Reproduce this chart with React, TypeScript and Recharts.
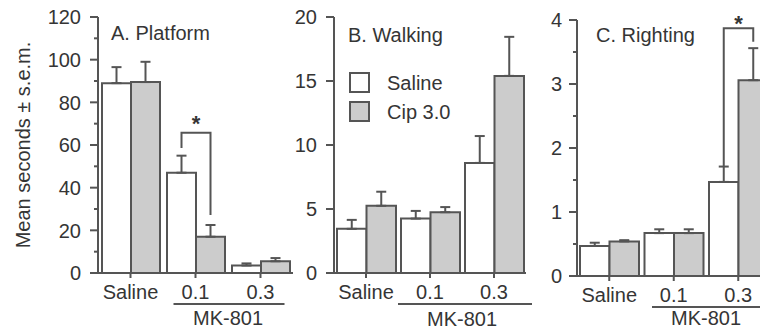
import React from 'react';
import { BarChart, Bar, XAxis, YAxis, ErrorBar, LabelList, Legend } from 'recharts';

// ---------- data ----------
const categories = ['Saline', '0.1', '0.3'];
const groupLabel = 'MK-801';
const seriesNames = ['Saline', 'Cip 3.0'];
const yAxisTitle = 'Mean seconds \u00b1 s.e.m.';

// A. Platform
const platformSaline = [89, 47, 3.5];
const platformSalineSem = [7.5, 8, 1];
const platformCip = [89.5, 17, 5.5];
const platformCipSem = [9.5, 5.5, 1.5];
const platformTicks = [0, 10, 20, 30, 40, 50, 60, 70, 80, 90, 100, 110, 120];

// B. Walking
const walkingSaline = [3.45, 4.25, 8.6];
const walkingSalineSem = [0.7, 0.6, 2.1];
const walkingCip = [5.25, 4.75, 15.4];
const walkingCipSem = [1.1, 0.4, 3.05];
const walkingTicks = [0, 5, 10, 15, 20];

// C. Righting
const rightingSaline = [0.47, 0.67, 1.47];
const rightingSalineSem = [0.05, 0.06, 0.24];
const rightingCip = [0.54, 0.67, 3.06];
const rightingCipSem = [0.02, 0.06, 0.5];
const rightingTicks = [0, 0.5, 1, 1.5, 2, 2.5, 3, 3.5, 4];

// significance brackets: [category index, left leg bottom, top, right leg bottom, star]
const platformBracket = [1, 58.6, 65.8, 27.2, 72.5];
const rightingBracket = [2, 1.72, 3.87, 3.66, 4.03];

// ---------- styles ----------
const FONT = '"Liberation Sans", Arial, Helvetica, sans-serif';
const INK = '#353535';
const LINE = '#555555';
const GREY = '#cccccc';
const FS = 20;

type PanelCfg = {
  title: string;
  titleX: number;
  titleBaseline: number;
  saline: number[];
  salineSem: number[];
  cip: number[];
  cipSem: number[];
  ticks: number[];
  majorStep: number;
  domain: [number, number];
  left: number;
  width: number;
  yAxisWidth: number;
  marginRight: number;
  top: number;
  marginBottom: number;
  tickMargin: number;
  barSize: number;
  ulLeft: number;
  ulRight: number;
  mkOffset: number;
  bracket?: number[];
  legend?: boolean;
  yLabel?: boolean;
};

function Panel(p: PanelCfg) {
  const data = categories.map((c, i) => ({
    category: c,
    saline: p.saline[i],
    salineErr: [0, p.salineSem[i]],
    cip: p.cip[i],
    cipErr: [0, p.cipSem[i]],
  }));
  const plotW = p.width - p.yAxisWidth - p.marginRight;
  const band = plotW / categories.length;

  const isMajor = (v: number) => Math.abs(v / p.majorStep - Math.round(v / p.majorStep)) < 1e-6;

  const YTick = (tp: any) => {
    const { x, y, payload } = tp;
    const axisX = x + 8 + p.tickMargin;
    const major = isMajor(payload.value);
    return (
      <g>
        <line x1={axisX - (major ? 8 : 4)} x2={axisX} y1={y} y2={y} stroke={LINE} strokeWidth={2} />
        {major && (
          <text x={x} y={y} dy="0.36em" textAnchor="end" fontSize={FS} fontFamily={FONT} fill={INK}>
            {payload.value}
          </text>
        )}
      </g>
    );
  };

  const XTick = (tp: any) => {
    const { x, y, payload, index } = tp;
    const mid = x - band / 2;
    return (
      <g>
        <text x={x} y={y + 19} textAnchor="middle" fontSize={FS} fontFamily={FONT} fill={INK}>
          {payload.value}
        </text>
        {index === categories.length - 1 && (
          <g>
            <line x1={mid - p.ulLeft} x2={mid + p.ulRight} y1={y + 24} y2={y + 24} stroke={LINE} strokeWidth={2} />
            <text x={mid} y={y + p.mkOffset} textAnchor="middle" fontSize={FS} fontFamily={FONT} fill={INK}>
              {groupLabel}
            </text>
          </g>
        )}
      </g>
    );
  };

  const bracketContent = (lp: any) => {
    if (!p.bracket || lp.index !== p.bracket[0]) return null;
    const vb = lp.viewBox || lp;
    const x = vb.x;
    const y = vb.y;
    const w = vb.width;
    const h = vb.height;
    const val = Number(lp.value);
    const scale = h / val;
    const base = y + h;
    const yOf = (v: number) => base - v * scale;
    const lx = x - w / 2;
    const rx = x + w / 2;
    const [, lb, top, rb, star] = p.bracket;
    const starFs = 22;
    return (
      <g>
        <path
          d={`M${lx},${yOf(lb)} V${yOf(top)} H${rx} V${yOf(rb)}`}
          fill="none"
          stroke={LINE}
          strokeWidth={2}
        />
        <text
          x={(lx + rx) / 2}
          y={yOf(star) + 0.58 * starFs}
          textAnchor="middle"
          fontSize={starFs}
          fontWeight="bold"
          fontFamily={FONT}
          fill={INK}
        >
          *
        </text>
      </g>
    );
  };

  const legendContent = (lp: any) => {
    const items = [...(lp.payload || [])].sort(
      (a: any, b: any) => seriesNames.indexOf(a.value) - seriesNames.indexOf(b.value)
    );
    return (
      <div style={{ fontFamily: FONT, fontSize: FS, color: INK }}>
        {items.map((it: any, i: number) => (
          <div key={i} style={{ position: 'relative', height: 29, width: 120 }}>
            <span
              style={{
                position: 'absolute',
                left: 0,
                top: 0,
                width: 21,
                height: 21,
                boxSizing: 'border-box',
                border: `2px solid ${LINE}`,
                background: (it.payload && it.payload.fill) || it.color,
              }}
            />
            <span style={{ position: 'absolute', left: 38, top: 1, lineHeight: '20px', whiteSpace: 'nowrap' }}>
              {it.value}
            </span>
          </div>
        ))}
      </div>
    );
  };

  const yLabelContent = (lp: any) => {
    const vb = lp.viewBox;
    const cx = vb.x + 30;
    const cy = vb.y + vb.height / 2;
    return (
      <text
        x={cx}
        y={cy}
        transform={`rotate(-90 ${cx} ${cy})`}
        textAnchor="middle"
        fontSize={FS}
        fontFamily={FONT}
        fill={INK}
      >
        {yAxisTitle}
      </text>
    );
  };

  return (
    <div style={{ position: 'absolute', left: p.left, top: 0 }}>
      <BarChart
        width={p.width}
        height={331}
        data={data}
        margin={{ top: p.top, right: p.marginRight, bottom: p.marginBottom, left: 0 }}
        barGap={0}
        barCategoryGap={0}
      >
        <XAxis
          dataKey="category"
          height={30}
          interval={0}
          axisLine={{ stroke: LINE, strokeWidth: 2 }}
          tickLine={{ stroke: LINE, strokeWidth: 2 }}
          tickSize={5}
          tickMargin={2}
          tick={<XTick />}
        />
        <YAxis
          width={p.yAxisWidth}
          domain={p.domain}
          ticks={p.ticks}
          interval={0}
          allowDataOverflow
          axisLine={{ stroke: LINE, strokeWidth: 2 }}
          tickLine={false}
          tickSize={8}
          tickMargin={p.tickMargin}
          tick={<YTick />}
          label={p.yLabel ? { content: yLabelContent } : undefined}
        />
        <Bar
          dataKey="saline"
          name={seriesNames[0]}
          fill="#ffffff"
          stroke={LINE}
          strokeWidth={2}
          barSize={p.barSize}
          isAnimationActive={false}
        >
          <ErrorBar dataKey="salineErr" width={5} stroke={LINE} strokeWidth={2} direction="y" isAnimationActive={false} />
        </Bar>
        <Bar
          dataKey="cip"
          name={seriesNames[1]}
          fill={GREY}
          stroke={LINE}
          strokeWidth={2}
          barSize={p.barSize}
          isAnimationActive={false}
        >
          <ErrorBar dataKey="cipErr" width={5} stroke={LINE} strokeWidth={2} direction="y" isAnimationActive={false} />
          {p.bracket && <LabelList dataKey="cip" content={bracketContent} />}
        </Bar>
        {p.legend && (
          <Legend
            layout="vertical"
            align="center"
            verticalAlign="middle"
            content={legendContent}
            wrapperStyle={{ left: 99, top: 72, width: 130, height: 60, bottom: 'auto', right: 'auto' }}
          />
        )}
      </BarChart>
      <div
        style={{
          position: 'absolute',
          left: p.titleX - p.left,
          top: p.titleBaseline - 17,
          fontFamily: FONT,
          fontSize: FS,
          lineHeight: '20px',
          color: INK,
          whiteSpace: 'nowrap',
        }}
      >
        {p.title}
      </div>
    </div>
  );
}

export default function App() {
  return (
    <div
      style={{
        position: 'absolute',
        left: 0,
        top: 0,
        width: 760,
        height: 331,
        overflow: 'hidden',
        background: '#ffffff',
      }}
    >
      <Panel
        title="A. Platform"
        titleX={111}
        titleBaseline={40}
        saline={platformSaline}
        salineSem={platformSalineSem}
        cip={platformCip}
        cipSem={platformCipSem}
        ticks={platformTicks}
        majorStep={20}
        domain={[0, 120]}
        left={0}
        width={300}
        yAxisWidth={98}
        marginRight={7}
        top={17}
        marginBottom={28}
        tickMargin={9}
        barSize={29}
        ulLeft={54.5}
        ulRight={56.5}
        mkOffset={45}
        bracket={platformBracket}
        yLabel
      />
      <Panel
        title="B. Walking"
        titleX={348}
        titleBaseline={42}
        saline={walkingSaline}
        salineSem={walkingSalineSem}
        cip={walkingCip}
        cipSem={walkingCipSem}
        ticks={walkingTicks}
        majorStep={5}
        domain={[0, 20]}
        left={250}
        width={290}
        yAxisWidth={84}
        marginRight={14}
        top={17}
        marginBottom={28}
        tickMargin={9}
        barSize={29.5}
        ulLeft={64}
        ulRight={70}
        mkOffset={46}
        legend
      />
      <Panel
        title="C. Righting"
        titleX={596}
        titleBaseline={42}
        saline={rightingSaline}
        salineSem={rightingSalineSem}
        cip={rightingCip}
        cipSem={rightingCipSem}
        ticks={rightingTicks}
        majorStep={1}
        domain={[0, 4]}
        left={500}
        width={290}
        yAxisWidth={77}
        marginRight={19.5}
        top={20}
        marginBottom={25}
        tickMargin={7}
        barSize={29.5}
        ulLeft={54}
        ulRight={70}
        mkOffset={42}
        bracket={rightingBracket}
      />
    </div>
  );
}
